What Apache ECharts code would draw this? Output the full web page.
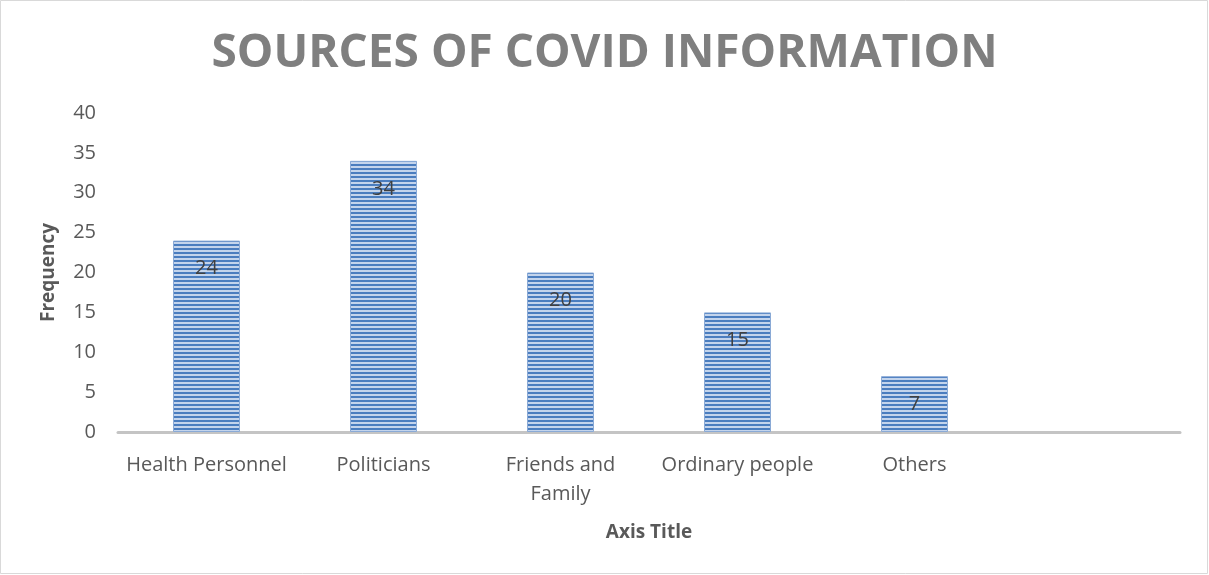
<!DOCTYPE html>
<html>
<head>
<meta charset="utf-8">
<script src="https://cdn.jsdelivr.net/npm/echarts@6/dist/echarts.min.js"></script>
<style>
  html, body { margin: 0; padding: 0; background: #fff; }
  #chart { width: 1209px; height: 575px; }
</style>
</head>
<body>
<div id="chart"></div>
<script>
// Sources of COVID information, by frequency
const categories = ['Health Personnel', 'Politicians', 'Friends and Family', 'Ordinary people', 'Others', ''];
const frequency = [24, 34, 20, 15, 7, null];
const yTicks = { min: 0, max: 40, interval: 5 };

// horizontal stripe fill for the bars
function stripePattern() {
  const c = document.createElement('canvas');
  c.width = 4; c.height = 4;
  const ctx = c.getContext('2d');
  ctx.fillStyle = '#c3d4ec';
  ctx.fillRect(0, 0, 4, 4);
  ctx.fillStyle = '#4a7dbf';
  ctx.fillRect(0, 0, 4, 2);
  return c;
}

const chart = echarts.init(document.getElementById('chart'), null, { renderer: 'canvas' });
const font = '"Open Sans", "Liberation Sans", sans-serif';

chart.setOption({
  backgroundColor: '#fff',
  animation: false,
  title: {
    text: 'SOURCES OF COVID INFORMATION',
    left: 'center',
    top: 26,
    textStyle: { fontFamily: font, fontSize: 46, fontWeight: 'bold', color: '#7f7f7f' }
  },
  graphic: [{
    type: 'rect',
    shape: { x: 0.5, y: 0.5, width: 1207, height: 573 },
    style: { fill: 'none', stroke: '#d9d9d9', lineWidth: 1 },
    silent: true
  }],
  grid: { left: 118, right: 29, top: 113, bottom: 143 },
  xAxis: {
    type: 'category',
    data: categories,
    name: 'Axis Title',
    nameLocation: 'middle',
    nameGap: 91,
    nameTextStyle: { fontFamily: font, fontSize: 19, fontWeight: 'bold', color: '#595959' },
    axisLine: { lineStyle: { color: '#c4c4c4', width: 3 } },
    axisTick: { show: false },
    axisLabel: {
      interval: 0,
      margin: 19,
      fontFamily: font,
      fontSize: 20,
      lineHeight: 29,
      color: '#595959',
      formatter: v => v.replace(' and ', ' and\n')
    }
  },
  yAxis: {
    type: 'value',
    min: yTicks.min,
    max: yTicks.max,
    interval: yTicks.interval,
    name: 'Frequency',
    nameLocation: 'middle',
    nameGap: 60,
    nameRotate: 90,
    nameTextStyle: { fontFamily: font, fontSize: 19, fontWeight: 'bold', color: '#595959' },
    axisLine: { show: false },
    axisTick: { show: false },
    splitLine: { show: false },
    axisLabel: { margin: 22, fontFamily: font, fontSize: 20, color: '#595959' }
  },
  series: [{
    type: 'bar',
    data: frequency,
    barWidth: 67,
    itemStyle: {
      color: { image: stripePattern(), repeat: 'repeat' },
      borderColor: '#8aaad6',
      borderWidth: 1
    },
    label: {
      show: true,
      position: 'insideTop',
      distance: 18,
      fontFamily: font,
      fontSize: 20,
      color: '#404040'
    }
  }]
});
</script>
</body>
</html>
